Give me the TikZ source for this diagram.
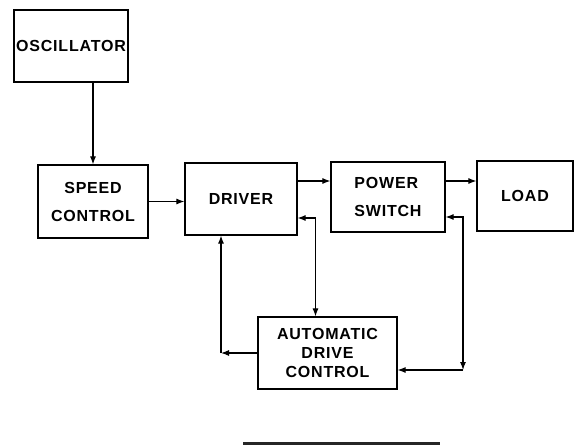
\documentclass[tikz,border=0pt]{standalone}
\usepackage{fontspec}
\setmainfont[LetterSpace = 5]{Liberation Sans}
\usetikzlibrary{calc}
\usetikzlibrary{arrows.meta}

\tikzset{
    block/.style = {draw, line width = 1.2pt, align = center, inner sep = 0pt,
                    font = \fontsize{16}{28}\bfseries\selectfont},
    wire/.style = {line width = 1.1pt, -{Latex[length = 8pt, width = 6pt]}},
    twowire/.style = {line width = 1.1pt, {Latex[length = 8pt, width = 6pt]}-{Latex[length = 8pt, width = 6pt]}}
}

\begin{document}
\begin{tikzpicture}[x = 1pt, y = -1pt]
            \useasboundingbox (0, 0) rectangle (575, 445);

            \node[block, minimum width = 114pt, minimum height = 72pt] (osc) at (71, 46) {OSCILLATOR};
            \node[block, minimum width = 110pt, minimum height = 73pt] (speed) at (93, 201.5) {SPEED\\CONTROL};
            \node[block, minimum width = 112pt, minimum height = 72pt] (driver) at (241, 199) {DRIVER};
            \node[block, minimum width = 114pt, minimum height = 70pt, align = left] (power) at (388, 197) {POWER\\SWITCH};
            \node[block, minimum width = 96pt, minimum height = 70pt] (load) at (525, 196) {LOAD};
            \node[block, minimum width = 139pt, minimum height = 72pt,
                  font = \fontsize{16}{19}\bfseries\selectfont] (adc) at (327.5, 353) {AUTOMATIC\\DRIVE\\CONTROL};

            \coordinate (lc) at ($(driver.south) + (-20, 0)$);
            \coordinate (lc) at (lc |- adc.west);
            \coordinate (rc) at (463, 370);

            \draw [wire] (osc.south -| speed.north) -- (speed.north);
            \draw [wire] (speed.east) -- (speed.east -| driver.west);
            \draw [wire] ([yshift = 18pt]driver.east) -- ([yshift = 18pt]driver.east -| power.west);
            \draw [wire] ([yshift = 16pt]power.east) -- ([yshift = 16pt]power.east -| load.west);

            \draw [twowire] ([yshift = -19pt]driver.east) -| ([xshift = -12pt]adc.north);
            \draw [wire] (adc.west) -- (lc);
            \draw [wire] (lc) -- (lc |- driver.south);
            \draw [twowire] ([yshift = -20pt]power.east) -| (rc);
            \draw [wire] (rc) -- (rc -| adc.east);

            \draw [line width = 3pt, black!85] (243, 443) -- (440, 443);
        \end{tikzpicture}
\end{document}
